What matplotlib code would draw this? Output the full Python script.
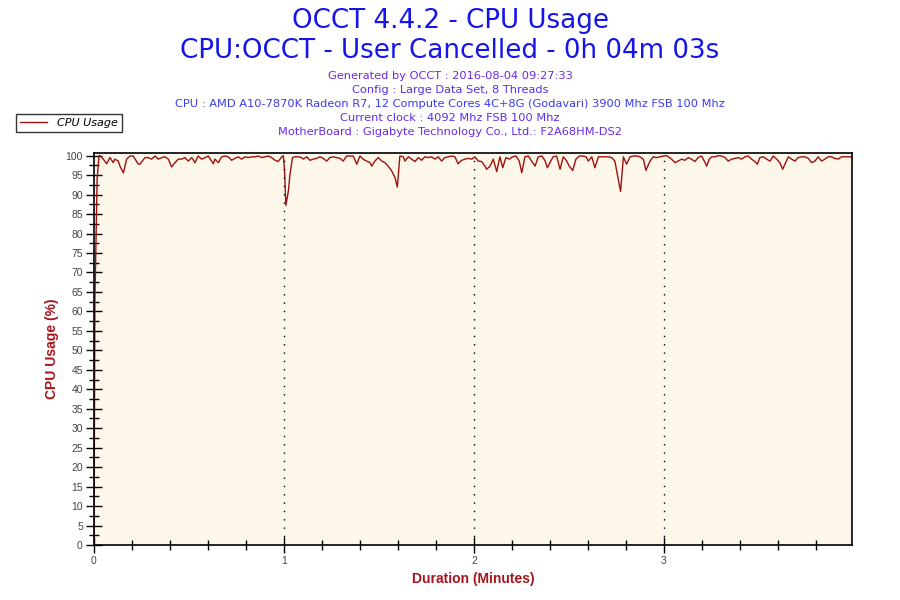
import matplotlib
matplotlib.use("Agg")
from matplotlib import pyplot as plt
from matplotlib.ticker import MultipleLocator
import numpy as np

# sample time (seconds) and CPU usage (%)
secs = [0, 0.3, 1.0, 1.6, 1.9, 2.4, 4.0, 5.05, 6.1, 6.6, 7.7, 8.2, 9.3, 10.3, 11.4, 12.4,
        14.0, 14.5, 16.1, 17.1, 18.2, 19.3, 20.3, 21.4, 22.4, 23.5, 24.5, 25.6, 26.6, 27.7,
        28.7, 29.8, 30.9, 31.9, 32.9, 34.0, 35.1, 36.1, 37.7, 38.2, 39.3, 40.3, 41.4, 42.4,
        43.5, 44.5, 45.6, 46.6, 47.7, 48.7, 49.8, 50.8, 51.9, 53.0, 54.0, 55.0, 56.1, 57.2,
        58.2, 59.3, 59.8, 60.2, 60.6, 61.4, 61.9, 62.7,
        63.5, 64.5, 65.6, 66.1, 67.2, 68.2, 69.3, 70.3, 71.4, 72.4, 73.5, 74.5, 75.6, 76.6,
        77.7, 78.7, 79.8, 80.8, 81.9, 83.0, 84.0, 85.0, 86.1, 87.2, 87.7, 88.7, 89.8, 90.9,
        91.9, 92.9, 94.0, 95.1, 95.8, 96.6, 97.7, 98.2, 99.3, 100.3, 101.4, 102.4, 103.5,
        104.5, 105.6, 106.6, 107.7, 108.7, 109.8, 110.8, 111.9, 113.0, 114.0, 115.0, 116.1,
        117.2, 118.2, 119.3, 120.3,
        121.4, 122.4, 123.5, 124.0, 125.1, 126.1, 127.2, 128.2, 129.1, 130.1, 131.2, 132.2,
        133.3, 134.3, 135.1, 136.1, 137.2, 138.2, 139.3, 140.3, 141.4, 142.4, 143.2, 144.0,
        145.0, 146.1, 147.2, 148.2, 149.3, 150.1, 151.2, 152.2, 153.3, 154.3, 155.4, 156.1,
        157.2, 158.2, 159.3, 160.3, 161.4, 162.4, 163.5, 164.5, 165.6, 166.3, 167.2, 168.2,
        169.3, 170.3, 171.4, 172.4, 173.5, 174.3, 175.6, 176.6, 177.7, 178.7, 179.8, 180.8,
        181.4, 182.4, 183.5, 184.5, 185.6, 186.6, 187.7, 188.7, 189.8, 190.8, 191.9, 193.0,
        193.5, 194.3, 195.1, 196.1, 197.2, 198.2, 199.3, 200.3, 201.4, 202.4, 203.5, 204.5,
        205.6, 206.6, 207.7, 208.7, 209.5, 210.3, 211.4, 212.4, 213.5, 214.5, 215.6, 216.6,
        217.5, 218.2, 219.3, 220.3, 221.4, 222.4, 223.5, 224.5, 225.6, 226.6, 227.7, 228.7,
        229.8, 230.8, 231.9, 232.9, 234.0, 235.0, 236.1, 237.2, 238.2, 239.4]
usage = [0, 63, 94, 100, 100, 99.7, 97.9, 99.5, 98.2, 99.1, 98.6, 97.3, 95.6, 99.1, 99.9, 99.9,
         97.8, 97.8, 99.5, 99.5, 99.1, 99.9, 99.1, 99.5, 99.7, 99.1, 97.1, 98.2, 99.1, 99.1,
         99.5, 98.6, 99.5, 98.2, 99.9, 99.1, 99.5, 99.9, 97.9, 99.1, 98.2, 99.7, 99.9, 99.7,
         98.8, 99.3, 99.7, 99.1, 99.7, 99.5, 99.7, 99.7, 99.9, 99.5, 99.7, 99.9, 99.5, 98.8,
         98.5, 99.7, 100, 96, 87.2, 90.9, 95.2, 99.5,
         99.7, 99.7, 99.5, 99.1, 99.7, 98.8, 99.1, 99.3, 99.7, 99.3, 98.6, 99.5, 99.7, 99.5,
         99.3, 98.6, 99.9, 99.9, 99.9, 97.8, 99.9, 99.1, 98.6, 98.2, 97.3, 98.6, 99.5, 98.6,
         98.2, 97.3, 96.1, 94.3, 91.9, 99.9, 99.7, 98.6, 99.7, 99.1, 98.5, 99.5, 98.8,
         99.7, 99.5, 99.7, 99.1, 99.7, 98.6, 99.5, 99.7, 99.9, 99.7, 97.9, 98.8,
         99.1, 99.3, 99.1, 99.7,
         98.6, 98.5, 97.3, 96.5, 97.3, 99.1, 95.9, 99.7, 96.9, 99.5, 99.1, 99.7,
         99.9, 98.6, 95.6, 99.7, 99.9, 98.6, 97.3, 99.7, 99.9, 98.8, 96.9, 98.2,
         99.7, 99.9, 96.5, 99.7, 98.6, 97.3, 96.2, 99.1, 99.9, 99.9, 99.7, 98.6,
         99.7, 96.9, 99.7, 99.7, 99.7, 99.7, 99.5, 98.6, 93.9, 90.8, 99.7, 97.8,
         99.7, 99.9, 99.9, 99.7, 99.1, 96.2, 98.6, 99.7, 99.5, 99.7, 99.9, 100,
         99.7, 99.1, 98.2, 98.6, 99.1, 98.8, 99.5, 99.1, 98.5, 99.5, 99.9, 98.2,
         97.3, 99.1, 99.7, 99.7, 100, 99.9, 99.5, 98.6, 99.1, 99.3, 99.5, 99.1,
         99.7, 99.9, 99.1, 98.5, 97.8, 99.5, 99.7, 99.1, 98.6, 99.9, 99.1, 98.2,
         96.5, 97.8, 99.7, 99.1, 98.6, 99.5, 99.7, 99.7, 99.3, 98.2, 98.6, 99.7,
         98.6, 99.1, 99.7, 99.7, 99.3, 99.1, 99.7, 99.7, 99.7, 99.7]

titles = ["OCCT 4.4.2 - CPU Usage", "CPU:OCCT - User Cancelled - 0h 04m 03s"]
info = ["Generated by OCCT : 2016-08-04 09:27:33",
        "Config : Large Data Set, 8 Threads",
        "CPU : AMD A10-7870K Radeon R7, 12 Compute Cores 4C+8G (Godavari) 3900 Mhz FSB 100 Mhz",
        "Current clock : 4092 Mhz FSB 100 Mhz",
        "MotherBoard : Gigabyte Technology Co., Ltd.: F2A68HM-DS2"]
info_colors = ["#6a28f0", "#5a2cf0", "#3a3af5", "#5a2cf0", "#6a28f0"]

dark_red = "#a8141c"

fig = plt.figure(figsize=(9, 6), dpi=100)
ax = fig.add_axes([0.1044, 0.0917, 0.8423, 0.6528])
ax.set_facecolor("#fdf7e9")

minutes = np.array(secs) / 60.0
line, = ax.plot(minutes, usage, color="#a01010", lw=1.0)

ax.set_xlim(0, 239.4 / 60)
ax.set_ylim(0, 100.6)
ax.xaxis.set_major_locator(MultipleLocator(1))
ax.xaxis.set_minor_locator(MultipleLocator(0.2))
ax.yaxis.set_major_locator(MultipleLocator(5))
ax.yaxis.set_minor_locator(MultipleLocator(2.5))
ax.tick_params(which="major", direction="inout", length=12, width=1,
               labelsize=7.5, labelcolor="#444444", pad=2)
ax.tick_params(which="minor", direction="inout", length=7, width=1)
ax.tick_params(axis="y", which="major", length=12, pad=2)
for lbl in ax.get_xticklabels() + ax.get_yticklabels():
    lbl.set_family("Liberation Sans")

for x in [1, 2, 3]:
    ax.axvline(x, color="black", lw=1, ls=(0, (1, 5)))

for s in ax.spines.values():
    s.set_linewidth(1.2)

ax.set_xlabel("Duration (Minutes)", color=dark_red, fontsize=10, fontweight="bold",
              family="Liberation Sans", labelpad=4)
ax.set_ylabel("CPU Usage (%)", color=dark_red, fontsize=10, fontweight="bold",
              family="Liberation Sans", labelpad=5)

for i, t in enumerate(titles):
    fig.text(0.5, 1 - (21 + 30 * i) / 600, t, ha="center", va="center", color="#1515e8",
             fontsize=18.8, family="DejaVu Sans")
for i, (t, c) in enumerate(zip(info, info_colors)):
    fig.text(0.5, 1 - (76 + 14 * i) / 600, t, ha="center", va="center", color=c,
             fontsize=8.2, family="DejaVu Sans")

leg = fig.legend([line], ["CPU Usage"], loc="upper left",
                 bbox_to_anchor=(10 / 900, 1 - 108 / 600), frameon=True,
                 fancybox=False, borderpad=0.4, handlelength=2.4, handletextpad=0.9,
                 prop={"family": "DejaVu Sans", "style": "italic", "size": 8})
leg.get_frame().set_edgecolor("black")
leg.get_frame().set_linewidth(1)

fig.savefig("out.png", dpi=100)
